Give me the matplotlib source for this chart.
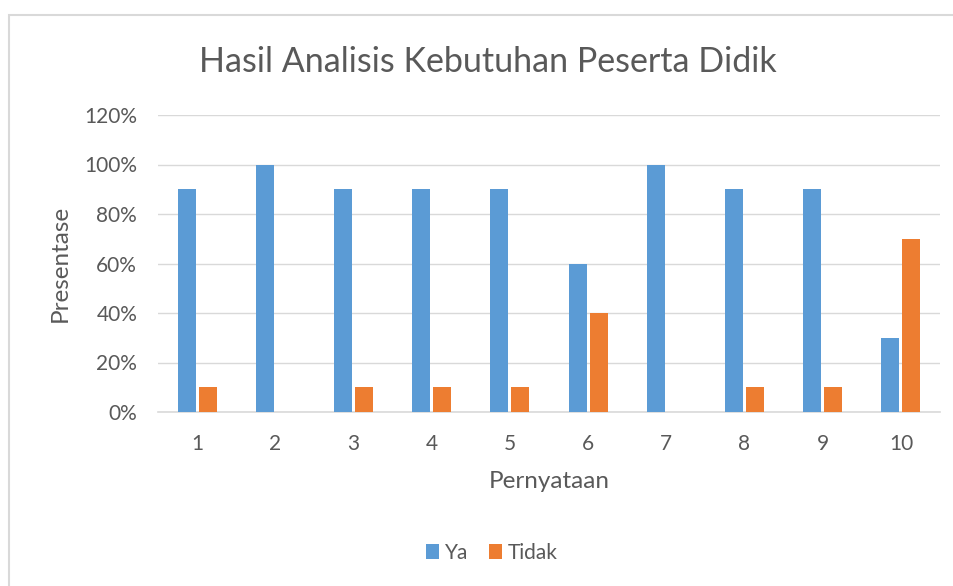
import numpy as np
import matplotlib.pyplot as plt
from matplotlib.patches import Rectangle

categories = ['1', '2', '3', '4', '5', '6', '7', '8', '9', '10']
ya = [90, 100, 90, 90, 90, 60, 100, 90, 90, 30]
tidak = [10, 0, 10, 10, 10, 40, 0, 10, 10, 70]
y_ticks = [0, 20, 40, 60, 80, 100, 120]

plt.rcParams['font.family'] = ['Lato', 'DejaVu Sans']
text_color = '#595959'

fig = plt.figure(figsize=(9.54, 5.86), dpi=100)
ax = fig.add_axes([158 / 954, 1 - 412 / 586, 782 / 954, 297 / 586])

x = np.arange(len(categories))
w = 0.23
ax.bar(x - 0.135, ya, w, color='#5B9BD5', label='Ya', zorder=3)
ax.bar(x + 0.135, tidak, w, color='#ED7D31', label='Tidak', zorder=3)

ax.set_xlim(-0.5, len(categories) - 0.5)
ax.set_ylim(0, 120)
ax.set_yticks(y_ticks)
ax.set_yticklabels([f'{t}%' for t in y_ticks])
ax.set_xticks(x)
ax.set_xticklabels(categories)
ax.grid(axis='y', color='#D9D9D9', linewidth=1, zorder=0)
ax.tick_params(length=0, labelsize=15, colors=text_color)
ax.tick_params(axis='x', pad=16)
ax.tick_params(axis='y', pad=15)
for s in ['top', 'right', 'left']:
    ax.spines[s].set_visible(False)
ax.spines['bottom'].set_color('#D9D9D9')
ax.spines['bottom'].set_linewidth(1.2)

ax.set_xlabel('Pernyataan', fontsize=17.5, color=text_color, labelpad=12)
ax.set_ylabel('Presentase', fontsize=17.5, color=text_color, labelpad=10)

fig.text(0.511, 1 - 62 / 586, 'Hasil Analisis Kebutuhan Peserta Didik',
         ha='center', va='center', fontsize=24.5, color=text_color)

fig.legend(loc='center', bbox_to_anchor=(0.516, 1 - 553 / 586), ncol=2,
           frameon=False, fontsize=15, handlelength=0.6, handleheight=0.7,
           handletextpad=0.3, columnspacing=1.0, labelcolor=text_color)

fig.patches.append(Rectangle((9 / 954, -0.1), 1.2, 1 - 15 / 586 + 0.1,
                             transform=fig.transFigure, fill=False,
                             edgecolor='#D9D9D9', linewidth=1.5))

fig.savefig('out.png', dpi=100)
